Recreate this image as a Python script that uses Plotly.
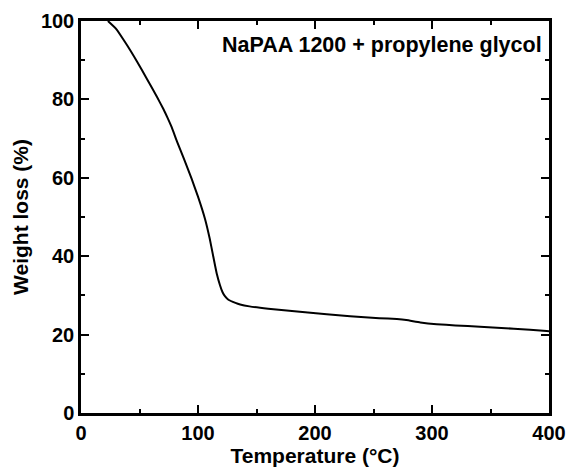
import plotly.graph_objects as go

temperature = [23, 30, 39, 47.6, 56, 65, 70.3, 74, 77.5, 82, 88, 94.6, 100, 106, 110, 113, 116, 118.8, 121, 123, 126, 132, 136, 144, 160, 187, 210, 230, 255, 270, 278, 290, 304, 320, 341, 370, 398, 400]
weight = [100, 98.0, 94.0, 89.8, 85.4, 80.6, 77.6, 75.3, 72.9, 69.3, 64.8, 59.7, 55.2, 49.5, 44.5, 40.0, 35.6, 32.6, 30.8, 29.8, 28.9, 28.1, 27.7, 27.2, 26.6, 25.8, 25.2, 24.7, 24.2, 23.95, 23.7, 23.1, 22.65, 22.35, 22.0, 21.5, 20.9, 20.85]

label = "NaPAA 1200 + propylene glycol"
x_title = "Temperature (°C)"
y_title = "Weight loss (%)"

font = "Liberation Sans, Arial, sans-serif"

fig = go.Figure()
fig.add_trace(go.Scatter(x=temperature, y=weight, mode="lines",
                         line=dict(color="black", width=2, shape="spline", smoothing=0.4),
                         showlegend=False))

axis_common = dict(
    showline=True, linewidth=2.5, linecolor="black", mirror="ticks",
    ticks="inside", ticklen=8, tickwidth=2, tickcolor="black",
    showgrid=False, zeroline=False, automargin=False,
    tickfont=dict(family=font, size=20, color="black"),
    title_font=dict(family=font, size=21, color="black"),
)

fig.update_xaxes(range=[0, 400], tick0=0, dtick=100,
                 minor=dict(dtick=50, ticks="inside", ticklen=4, tickwidth=2, tickcolor="black"),
                 title_text="<b>" + x_title + "</b>", title_standoff=2,
                 tickprefix="<b>", ticksuffix="</b>", **axis_common)
fig.update_yaxes(range=[0, 100], tick0=0, dtick=20,
                 minor=dict(dtick=10, ticks="inside", ticklen=4, tickwidth=2, tickcolor="black"),
                 title_text="<b>" + y_title + "</b>", title_standoff=7,
                 tickprefix="<b>", ticksuffix="</b>", **axis_common)

fig.add_annotation(text="<b>" + label + "</b>", xref="paper", yref="paper",
                   x=1, y=0.939, xanchor="right", yanchor="middle", xshift=-5,
                   showarrow=False, font=dict(family=font, size=21.5, color="black"))

fig.update_layout(width=567, height=468, margin=dict(l=81, r=18, t=21, b=55),
                  plot_bgcolor="white", paper_bgcolor="white")

fig.write_html("out.html")
